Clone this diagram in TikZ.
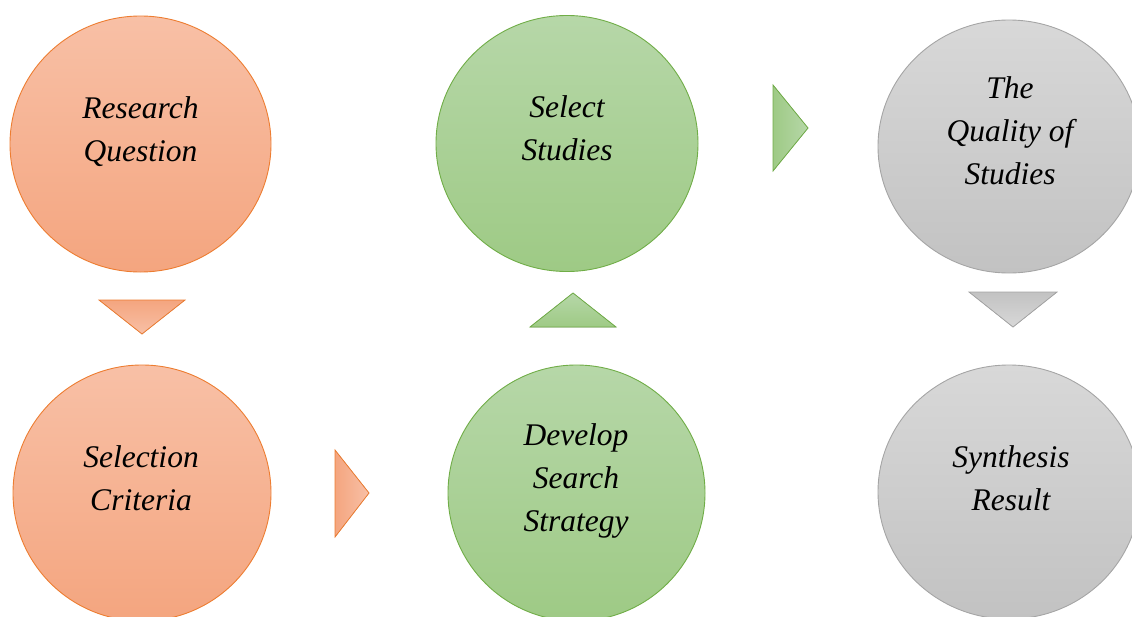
\documentclass[tikz,border=0pt]{standalone}
\usepackage{fontspec}
\setmainfont{Liberation Serif}
\usetikzlibrary{shapes.geometric}

\definecolor{warmTop}{RGB}{248,192,166}
\definecolor{warmBot}{RGB}{244,165,127}
\definecolor{warmLine}{RGB}{237,125,49}
\definecolor{leafTop}{RGB}{182,215,168}
\definecolor{leafBot}{RGB}{158,202,133}
\definecolor{leafLine}{RGB}{112,173,71}
\definecolor{ashTop}{RGB}{216,216,216}
\definecolor{ashBot}{RGB}{194,194,194}
\definecolor{ashLine}{RGB}{165,165,165}

\begin{document}
\begin{tikzpicture}[x=1pt,y=-1pt,
  disc/.style={ellipse, inner sep=0pt, line width=0.9pt},
  warmdisc/.style={disc, draw=warmLine, top color=warmTop, bottom color=warmBot},
  leafdisc/.style={disc, draw=leafLine, top color=leafTop, bottom color=leafBot},
  ashdisc/.style={disc, draw=ashLine, top color=ashTop, bottom color=ashBot},
  pointer/.style={line width=0.8pt, line join=miter},
  % multi-line titles are anchored at the baseline of their last line
  caption/.style={font=\itshape\fontsize{31.5}{43}\selectfont, align=center,
                  anchor=base, inner sep=0pt}
]
\path[use as bounding box] (0,0) rectangle (1132,616);
\begin{scope}
  \clip (0,0) rectangle (1132,616);

  % stage circles
  \node[warmdisc, minimum width=261pt, minimum height=256pt] (rq) at (140.5,144) {};
  \node[warmdisc, minimum width=258pt, minimum height=256pt] (sc) at (142,493) {};
  \node[leafdisc, minimum width=262pt, minimum height=256pt] (ss) at (567,143.5) {};
  \node[leafdisc, minimum width=257pt, minimum height=256pt] (ds) at (576.5,493) {};
  \node[ashdisc,  minimum width=262pt, minimum height=253pt] (qs) at (1009,146.5) {};
  \node[ashdisc,  minimum width=262pt, minimum height=254pt] (sr) at (1009,492) {};

  % stage titles
  \node[caption] (rq-t) at (140.5,161) {Research\\Question};
  \node[caption] (sc-t) at (141,510) {Selection\\Criteria};
  \node[caption] (ss-t) at (567,160) {Select\\Studies};
  \node[caption] (ds-t) at (576,531) {Develop\\Search\\Strategy};
  \node[caption] (qs-t) at (1010,184) {The\\Quality of\\Studies};
  \node[caption] (sr-t) at (1011,510) {Synthesis\\Result};

  % flow pointers between stages
  \filldraw[pointer, draw=warmLine, top color=warmBot, bottom color=warmTop]
    (99,300) -- (185,300) -- (142,334) -- cycle;
  \filldraw[pointer, draw=warmLine, left color=warmBot, right color=warmTop]
    (335,450) -- (369,493) -- (335,537) -- cycle;
  \filldraw[pointer, draw=leafLine, top color=leafTop, bottom color=leafBot]
    (530,327) -- (573,293) -- (616,327) -- cycle;
  \filldraw[pointer, draw=leafLine, left color=leafBot, right color=leafTop]
    (773,85) -- (808,128) -- (773,171) -- cycle;
  \filldraw[pointer, draw=ashLine, top color=ashBot, bottom color=ashTop]
    (969,292) -- (1057,292) -- (1013,327) -- cycle;
\end{scope}
\end{tikzpicture}
\end{document}
